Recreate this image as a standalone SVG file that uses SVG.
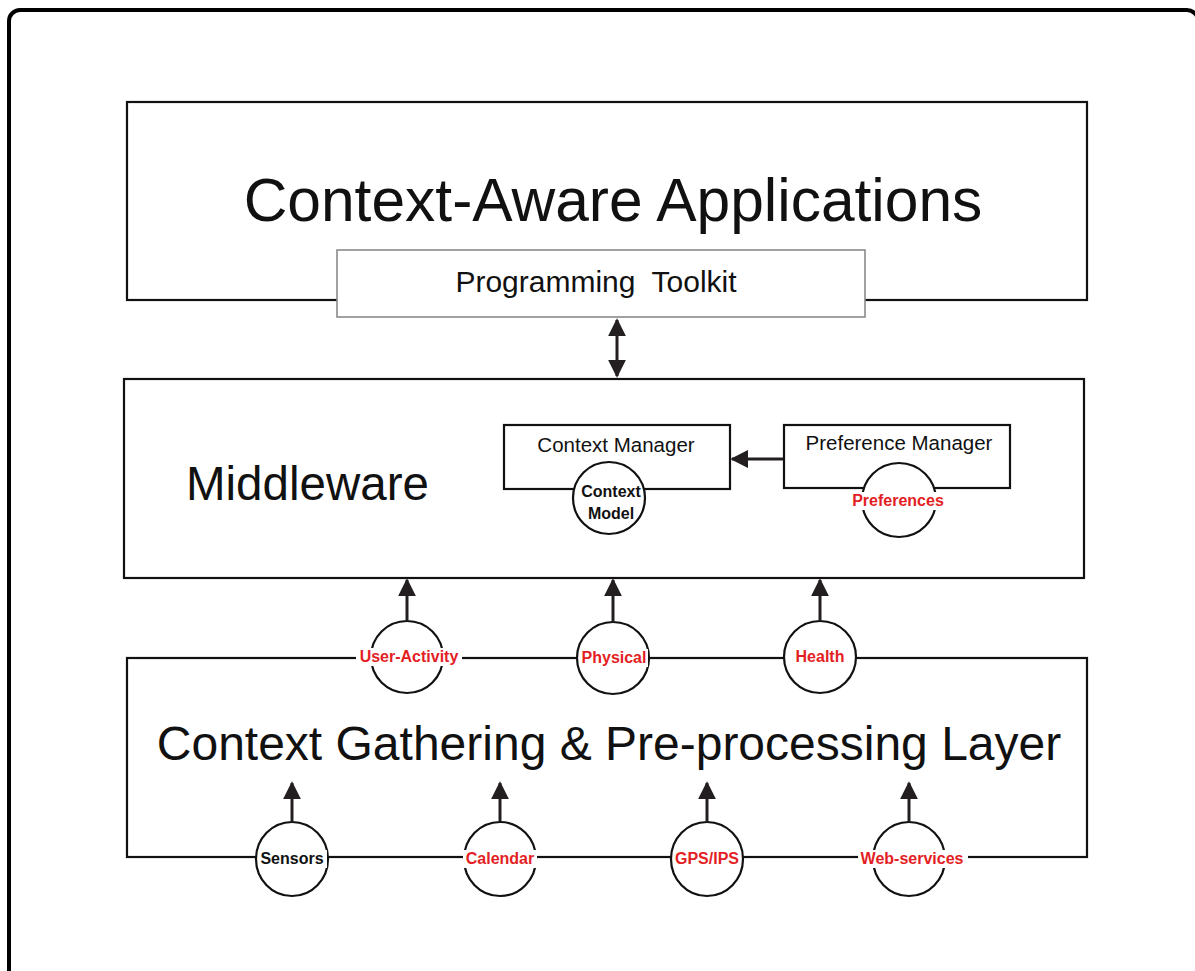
<svg xmlns="http://www.w3.org/2000/svg" width="1195" height="971" viewBox="0 0 1195 971">
<defs>
<style>
.box{fill:#fff;stroke:#111;stroke-width:2.2}
.tk{fill:#fff;stroke:#8a8a8a;stroke-width:1.6}
.circ{fill:#fff;stroke:#111;stroke-width:2.2}
.big{font-family:"Liberation Sans",Arial,sans-serif;fill:#111}
.lbl{font-family:"Liberation Sans",Arial,sans-serif;font-weight:bold;font-size:16px;text-anchor:middle}
.red{fill:#e31e24}
.blk{fill:#111}
.bg{fill:#fff}
.conn{stroke:#231f20;stroke-width:3;fill:none}
</style>
<marker id="ah" viewBox="0 0 10 10" refX="9" refY="5" markerWidth="6" markerHeight="6" orient="auto-start-reverse" markerUnits="strokeWidth">
<path d="M0,0 L10,5 L0,10 z" fill="#231f20"/>
</marker>
</defs>
<rect x="0" y="0" width="1195" height="971" fill="#fff"/>
<rect id="frame" x="9" y="10" width="1189" height="1000" rx="11" fill="none" stroke="#000" stroke-width="4"/>

<g id="applications">
<rect class="box" x="127" y="102" width="960" height="198"/>
<text class="big" x="613" y="221" font-size="60.5" text-anchor="middle">Context-Aware Applications</text>
</g>
<g id="toolkit">
<rect class="tk" x="337" y="250" width="528" height="67"/>
<text class="big" x="596" y="292" font-size="30" text-anchor="middle" xml:space="preserve">Programming  Toolkit</text>
</g>

<g id="middleware">
<rect class="box" x="124" y="379" width="960" height="199"/>
<text class="big" x="186" y="500" font-size="47.5">Middleware</text>
</g>
<g id="context-manager">
<rect class="box" x="504" y="425" width="226" height="64"/>
<text class="big" x="616" y="452" font-size="20.5" text-anchor="middle">Context Manager</text>
</g>
<g id="context-model">
<circle class="circ" cx="609" cy="498" r="36"/>
<text class="lbl blk" x="611" y="497" font-size="14.5">Context</text>
<text class="lbl blk" x="611" y="519" font-size="14.5">Model</text>
</g>
<g id="preference-manager">
<rect class="box" x="784" y="425" width="226" height="63"/>
<text class="big" x="899" y="450" font-size="20.5" text-anchor="middle">Preference Manager</text>
</g>
<g id="preferences">
<circle class="circ" cx="899" cy="500" r="37"/>
<rect class="bg" x="850" y="492" width="98" height="18"/>
<text class="lbl red" x="898" y="506">Preferences</text>
</g>

<g id="gathering">
<rect class="box" x="127" y="658" width="960" height="199"/>
<text class="big" x="609" y="760" font-size="48" text-anchor="middle">Context Gathering &amp; Pre-processing Layer</text>
</g>

<g id="user-activity">
<circle class="circ" cx="407" cy="657" r="36"/>
<rect class="bg" x="356" y="648" width="106" height="18"/>
<text class="lbl red" x="409" y="662" font-size="15.5">User-Activity</text>
</g>
<g id="physical">
<circle class="circ" cx="613" cy="658" r="36"/>
<rect class="bg" x="580" y="649" width="68" height="18"/>
<text class="lbl red" x="614" y="663">Physical</text>
</g>
<g id="health">
<circle class="circ" cx="820" cy="657" r="36"/>
<text class="lbl red" x="820" y="662">Health</text>
</g>

<g id="sensors">
<ellipse class="circ" cx="292" cy="859" rx="36" ry="37"/>
<rect class="bg" x="258" y="850" width="69" height="18"/>
<text class="lbl blk" x="292" y="864">Sensors</text>
</g>
<g id="calendar">
<ellipse class="circ" cx="500" cy="859" rx="36" ry="37"/>
<rect class="bg" x="463" y="850" width="74" height="18"/>
<text class="lbl red" x="500" y="864">Calendar</text>
</g>
<g id="gps-ips">
<ellipse class="circ" cx="707" cy="859" rx="36" ry="37"/>
<text class="lbl red" x="707" y="864">GPS/IPS</text>
</g>
<g id="web-services">
<ellipse class="circ" cx="909" cy="859" rx="36" ry="37"/>
<rect class="bg" x="858" y="850" width="110" height="18"/>
<text class="lbl red" x="912" y="864">Web-services</text>
</g>

<g id="connectors">
<line class="conn" x1="617" y1="320" x2="617" y2="376" marker-start="url(#ah)" marker-end="url(#ah)"/>
<line class="conn" x1="783" y1="459" x2="732" y2="459" marker-end="url(#ah)"/>
<line class="conn" x1="407" y1="620" x2="407" y2="580" marker-end="url(#ah)"/>
<line class="conn" x1="613" y1="621" x2="613" y2="580" marker-end="url(#ah)"/>
<line class="conn" x1="820" y1="620" x2="820" y2="580" marker-end="url(#ah)"/>
<line class="conn" x1="292" y1="821" x2="292" y2="783" marker-end="url(#ah)"/>
<line class="conn" x1="500" y1="821" x2="500" y2="783" marker-end="url(#ah)"/>
<line class="conn" x1="707" y1="821" x2="707" y2="783" marker-end="url(#ah)"/>
<line class="conn" x1="909" y1="821" x2="909" y2="783" marker-end="url(#ah)"/>
</g>
</svg>
